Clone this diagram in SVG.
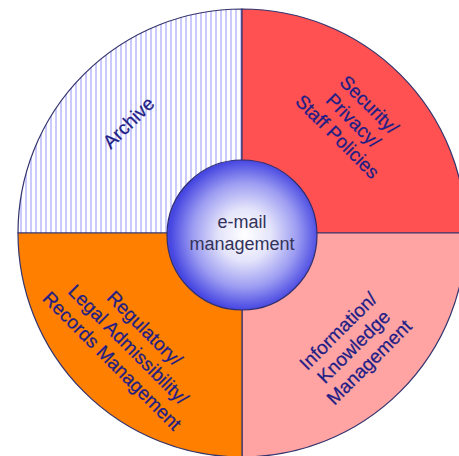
<svg xmlns="http://www.w3.org/2000/svg" width="459" height="456" viewBox="0 0 459 456">
<defs>
<pattern id="stripes" patternUnits="userSpaceOnUse" width="5" height="10">
<rect width="5" height="10" fill="#ffffff"/>
<rect x="0" width="2" height="10" fill="#cacafc"/>
</pattern>
<radialGradient id="core" cx="0.52" cy="0.5" r="0.5">
<stop offset="0" stop-color="#ffffff"/>
<stop offset="0.35" stop-color="#e4e4fb"/>
<stop offset="0.7" stop-color="#9c9cf2"/>
<stop offset="1" stop-color="#4646e2"/>
</radialGradient>
</defs>
<style>
.q{stroke:#34346e;stroke-width:1.2}
.t{font-family:"Liberation Sans",Arial,sans-serif;font-size:19px;fill:#1e1e86;stroke:#1e1e86;stroke-width:0.25;text-anchor:middle}
.c{font-family:"Liberation Sans",Arial,sans-serif;font-size:18px;fill:#33335a;text-anchor:middle}
</style>
<rect width="459" height="456" fill="#ffffff"/>
<g id="archive">
<path class="q" d="M242,233 L18,233 A224,224 0 0 1 242,9 Z" fill="url(#stripes)"/>
<text class="t" transform="translate(129,123) rotate(-45)" y="6">Archive</text>
</g>
<g id="security">
<path class="q" d="M242,233 L242,9 A224,224 0 0 1 466,233 Z" fill="#ff5151"/>
<g transform="translate(353,121) rotate(45)">
<text class="t" y="-16.5">Security/</text>
<text class="t" y="6">Privacy/</text>
<text class="t" y="28.5">Staff Policies</text>
</g>
</g>
<g id="information">
<path class="q" d="M242,233 L466,233 A224,224 0 0 1 242,457 Z" fill="#ffa3a3"/>
<g transform="translate(354,347) rotate(-45)">
<text class="t" y="-16">Information/</text>
<text class="t" y="6">Knowledge</text>
<text class="t" y="28">Management</text>
</g>
</g>
<g id="regulatory">
<path class="q" d="M242,233 L242,457 A224,224 0 0 1 18,233 Z" fill="#ff8000"/>
<g transform="translate(128,345) rotate(45)">
<text class="t" y="-17">Regulatory/</text>
<text class="t" y="6">Legal Admissibility/</text>
<text class="t" y="29">Records Management</text>
</g>
</g>
<g id="email-management">
<circle cx="242" cy="235" r="75" fill="url(#core)" stroke="#2e2e70" stroke-width="1.2"/>
<text class="c" x="242" y="228">e-mail</text>
<text class="c" x="242" y="250">management</text>
</g>
</svg>
